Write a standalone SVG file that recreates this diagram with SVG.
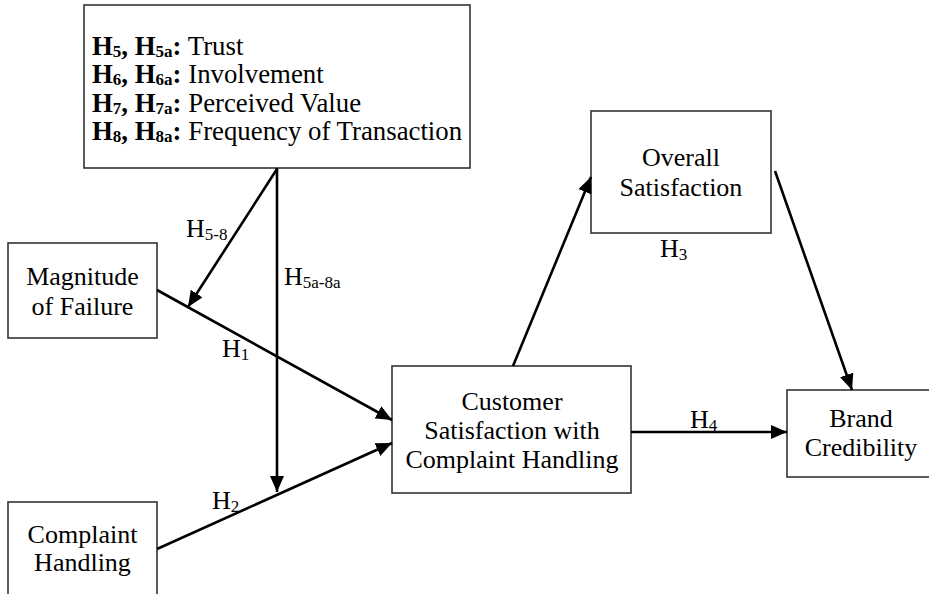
<svg xmlns="http://www.w3.org/2000/svg" width="929" height="594" viewBox="0 0 929 594">
<style>
.box{fill:#fff;stroke:#333;stroke-width:1.6}
.t{font-family:"Liberation Serif","Times New Roman",serif;font-size:26px;fill:#000}
.m{font-size:26.8px}
.c{text-anchor:middle}
.b{font-weight:bold}
.s{font-size:17px}
.ln{stroke:#000;stroke-width:2.6;fill:none}
</style>
<defs>
<marker id="ah" markerUnits="userSpaceOnUse" markerWidth="18" markerHeight="14" refX="16" refY="7" orient="auto">
<path d="M0,0 L16,7 L0,14 Z" fill="#000"/>
</marker>
</defs>
<rect width="929" height="594" fill="#fff"/>
<g id="moderators">
<rect class="box" x="84" y="5" width="386" height="163"/>
<text class="t m" x="92" y="55"><tspan class="b">H<tspan class="s" dy="2">5</tspan><tspan dy="-2">, H</tspan><tspan class="s" dy="2">5a</tspan><tspan dy="-2">:</tspan></tspan> Trust</text>
<text class="t m" x="92" y="83"><tspan class="b">H<tspan class="s" dy="2">6</tspan><tspan dy="-2">, H</tspan><tspan class="s" dy="2">6a</tspan><tspan dy="-2">:</tspan></tspan> Involvement</text>
<text class="t m" x="92" y="112"><tspan class="b">H<tspan class="s" dy="2">7</tspan><tspan dy="-2">, H</tspan><tspan class="s" dy="2">7a</tspan><tspan dy="-2">:</tspan></tspan> Perceived Value</text>
<text class="t m" x="92" y="140"><tspan class="b">H<tspan class="s" dy="2">8</tspan><tspan dy="-2">, H</tspan><tspan class="s" dy="2">8a</tspan><tspan dy="-2">:</tspan></tspan> Frequency of Transaction</text>
</g>
<g id="magnitude">
<rect class="box" x="8" y="243" width="149" height="95"/>
<text class="t c" x="82.5" y="285">Magnitude</text>
<text class="t c" x="82.5" y="315">of Failure</text>
</g>
<g id="complaint">
<rect class="box" x="8" y="502" width="149" height="110"/>
<text class="t c" x="82.5" y="543">Complaint</text>
<text class="t c" x="82.5" y="571">Handling</text>
</g>
<g id="cswch">
<rect class="box" x="392" y="366" width="239" height="127"/>
<text class="t c" x="512" y="410">Customer</text>
<text class="t c" x="512" y="439">Satisfaction with</text>
<text class="t c" x="512" y="468">Complaint Handling</text>
</g>
<g id="overall">
<rect class="box" x="591" y="111" width="180" height="122"/>
<text class="t c" x="681" y="166">Overall</text>
<text class="t c" x="681" y="196">Satisfaction</text>
</g>
<g id="brand">
<rect class="box" x="787" y="390" width="150" height="87"/>
<text class="t c" x="861" y="427">Brand</text>
<text class="t c" x="861" y="456">Credibility</text>
</g>
<g id="connectors">
<line class="ln" x1="277" y1="168" x2="277" y2="492" marker-end="url(#ah)"/>
<line class="ln" x1="277" y1="169" x2="188" y2="307" marker-end="url(#ah)"/>
<line class="ln" x1="157" y1="290" x2="392" y2="420" marker-end="url(#ah)"/>
<line class="ln" x1="157" y1="549" x2="392" y2="443" marker-end="url(#ah)"/>
<line class="ln" x1="513" y1="366" x2="591" y2="177" marker-end="url(#ah)"/>
<line class="ln" x1="775" y1="171" x2="852" y2="390" marker-end="url(#ah)"/>
<line class="ln" x1="631" y1="432" x2="787" y2="432" marker-end="url(#ah)"/>
<text class="t" x="186" y="237">H<tspan class="s" dy="3">5-8</tspan></text>
<text class="t" x="284" y="285">H<tspan class="s" dy="3">5a-8a</tspan></text>
<text class="t" x="222" y="357">H<tspan class="s" dy="3">1</tspan></text>
<text class="t" x="212" y="509">H<tspan class="s" dy="3">2</tspan></text>
<text class="t" x="660" y="257">H<tspan class="s" dy="3">3</tspan></text>
<text class="t" x="690" y="428">H<tspan class="s" dy="3">4</tspan></text>
</g>
</svg>
